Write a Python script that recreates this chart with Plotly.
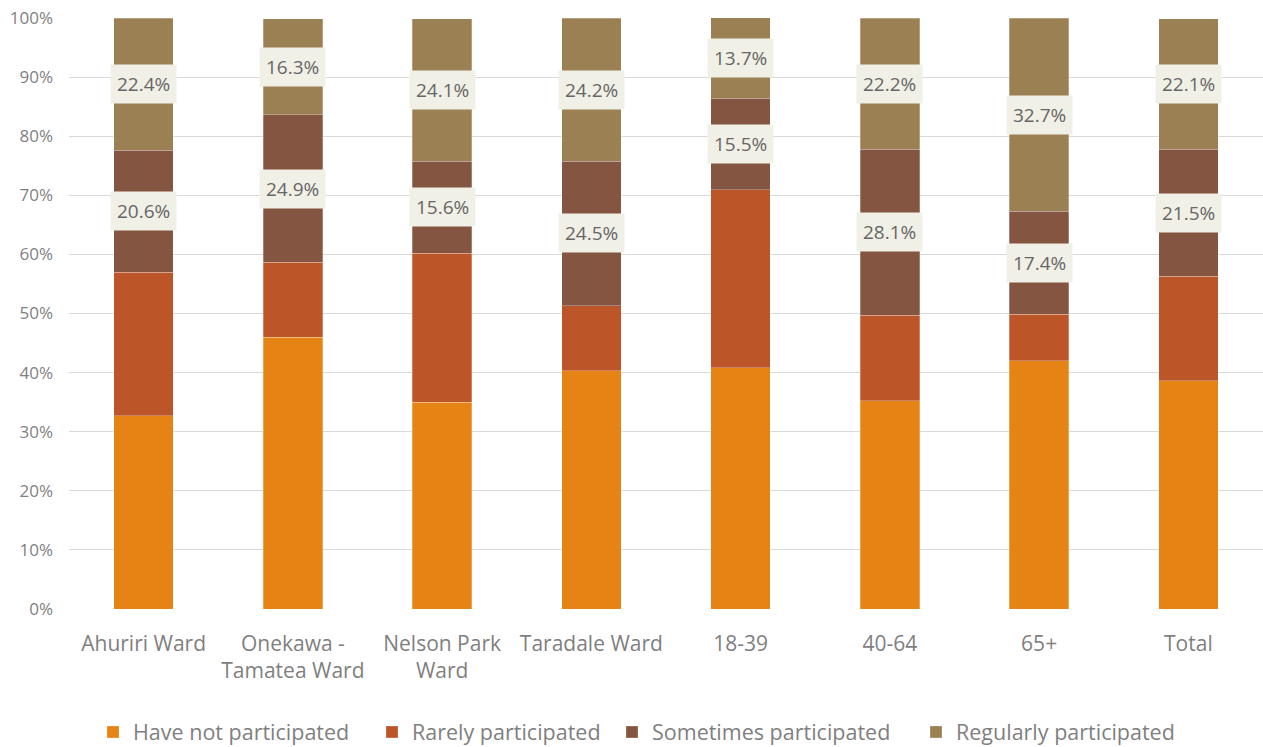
import plotly.graph_objects as go

categories = ["Ahuriri Ward", "Onekawa -<br>Tamatea Ward", "Nelson Park<br>Ward", "Taradale Ward",
              "18-39", "40-64", "65+", "Total"]
have_not = [32.7, 46.0, 35.0, 40.3, 40.8, 35.2, 42.0, 38.6]
rarely = [24.3, 12.7, 25.2, 11.0, 30.1, 14.5, 7.9, 17.7]
sometimes = [20.6, 24.9, 15.6, 24.5, 15.5, 28.1, 17.4, 21.5]
regularly = [22.4, 16.3, 24.1, 24.2, 13.7, 22.2, 32.7, 22.1]

series = [
    ("Have not participated", have_not, "#E58315"),
    ("Rarely participated", rarely, "#BC5629"),
    ("Sometimes participated", sometimes, "#845540"),
    ("Regularly participated", regularly, "#9B8054"),
]
# legend entry left positions (pixels in page)
legend_px = [107, 386, 626, 930]

FONT = "Open Sans"
W, H = 1263, 747
fig = go.Figure()
legend_ids = ["legend", "legend2", "legend3", "legend4"]
for (name, vals, color), lid in zip(series, legend_ids):
    fig.add_trace(go.Bar(
        x=categories, y=[v / 100 for v in vals], name=name, legend=lid,
        marker=dict(color=color, line=dict(color="rgba(255,255,255,0.35)", width=0.75)),
        hoverinfo="skip",
    ))

annotations = []
for i, cat in enumerate(categories):
    base = (have_not[i] + rarely[i]) / 100
    s = sometimes[i] / 100
    r = regularly[i] / 100
    for center, val in [(base + s / 2, sometimes[i]), (base + s + r / 2, regularly[i])]:
        annotations.append(dict(
            x=cat, y=center, xref="x", yref="y", text=f"{val:.1f}%", showarrow=False,
            font=dict(family=FONT, size=19, color="#666666"),
            bgcolor="#F1F0E6", borderpad=6,
        ))

layout_legends = {}
for lid, px in zip(legend_ids, legend_px):
    layout_legends[lid] = dict(
        orientation="h", xref="container", x=(px - 14) / W, xanchor="left",
        yref="container", y=1 - 732 / H, yanchor="middle",
        font=dict(size=21.5, color="#7F7F7F"), itemwidth=30, bgcolor="rgba(0,0,0,0)",
    )

fig.update_layout(
    barmode="stack",
    bargap=0.6,
    width=W, height=H,
    margin=dict(l=69, r=0, t=18, b=138, autoexpand=False),
    paper_bgcolor="white", plot_bgcolor="white",
    font=dict(family=FONT, color="#7F7F7F"),
    annotations=annotations,
    showlegend=True,
    **layout_legends,
)
fig.update_xaxes(tickfont=dict(size=21, color="#7F7F7F"), showline=False, ticks="", tickangle=0,
                 ticklabelstandoff=20)
fig.update_yaxes(range=[0, 1], tickformat=".0%", dtick=0.1, gridcolor="#D9D9D9", gridwidth=1,
                 zeroline=False, tickfont=dict(size=17, color="#7F7F7F"), ticks="", ticklen=0,
                 ticklabelstandoff=15)
fig.write_html("out.html")
